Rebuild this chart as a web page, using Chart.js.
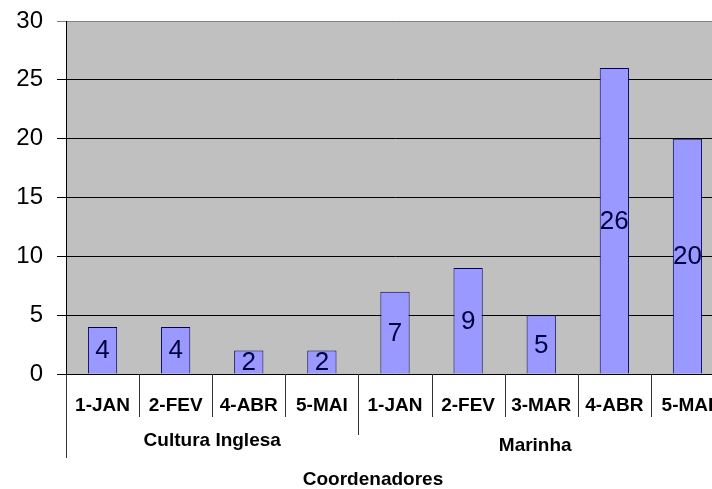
<!DOCTYPE html>
<html>
<head>
<meta charset="utf-8">
<script src="https://cdn.jsdelivr.net/npm/chart.js@4"></script>
<style>
  html, body { margin: 0; padding: 0; background: #fff; overflow: hidden; }
  #wrap { width: 712px; height: 489px; overflow: hidden; position: relative; }
  #wrap canvas { display: block; }
</style>
</head>
<body>
<div id="wrap"><canvas id="c" width="730" height="489" style="width:730px;height:489px"></canvas></div>
<script>
// Monthly counts per coordinator
const months = ['1-JAN', '2-FEV', '4-ABR', '5-MAI', '1-JAN', '2-FEV', '3-MAR', '4-ABR', '5-MAI'];
const groups = ['Cultura Inglesa', 'Marinha'];
const groupSizes = [4, 5];
const counts = [4, 4, 2, 2, 7, 9, 5, 26, 20];
const yTicks = [0, 5, 10, 15, 20, 25, 30];
const axisTitle = 'Coordenadores';

const FONT = 'Arial, "Liberation Sans", sans-serif';

const decor = {
  id: 'decor',
  beforeDraw(chart) {
    const { ctx, chartArea: a } = chart;
    ctx.save();
    ctx.fillStyle = '#c0c0c0';
    ctx.fillRect(a.left, a.top, a.right - a.left, a.bottom - a.top);
    ctx.restore();
  },
  afterDatasetsDraw(chart) {
    const { ctx } = chart;
    const meta = chart.getDatasetMeta(0);
    ctx.save();
    ctx.font = '26px ' + FONT;
    ctx.fillStyle = '#000040';
    ctx.textAlign = 'center';
    ctx.textBaseline = 'middle';
    meta.data.forEach((bar, i) => {
      ctx.fillText(String(counts[i]), bar.x, (bar.y + bar.base) / 2 + 1);
    });
    ctx.restore();
  },
  afterDraw(chart) {
    const { ctx, chartArea: a } = chart;
    const cw = (a.right - a.left) / months.length;
    const edge = i => a.left + i * cw;
    const visibleRight = 712;

    ctx.save();
    ctx.strokeStyle = '#333';
    ctx.lineWidth = 1;
    // category dividers
    const groupStarts = [0];
    groupSizes.reduce((s, n) => { groupStarts.push(s + n); return s + n; }, 0);
    for (let i = 0; i <= months.length; i++) {
      let end = a.bottom + 43;
      if (i === 0) end = a.bottom + 84;
      else if (groupStarts.includes(i) && i < months.length) end = a.bottom + 61;
      const px = Math.round(edge(i)) + 0.5;
      ctx.beginPath();
      ctx.moveTo(px, a.bottom);
      ctx.lineTo(px, end);
      ctx.stroke();
    }

    // group labels
    ctx.fillStyle = '#000';
    ctx.font = 'bold 19px ' + FONT;
    ctx.textAlign = 'center';
    ctx.textBaseline = 'middle';
    const groupY = [a.bottom + 67, a.bottom + 72];
    groups.forEach((g, gi) => {
      const s = edge(groupStarts[gi]);
      const e = Math.min(edge(groupStarts[gi + 1]), visibleRight);
      ctx.fillText(g, (s + e) / 2, groupY[gi]);
    });

    // axis title
    ctx.fillText(axisTitle, 373, a.bottom + 106);
    ctx.restore();
  }
};

new Chart(document.getElementById('c'), {
  type: 'bar',
  data: {
    labels: months,
    datasets: [{
      data: counts,
      backgroundColor: '#9999ff',
      borderColor: '#000060',
      borderWidth: 1,
      barPercentage: 0.4,
      categoryPercentage: 1
    }]
  },
  options: {
    responsive: false,
    animation: false,
    events: [],
    layout: { padding: { top: 21, right: 6, bottom: 0, left: 0 } },
    plugins: { legend: { display: false }, tooltip: { enabled: false } },
    scales: {
      x: {
        grid: { display: false },
        border: { display: true, color: '#000', width: 1 },
        ticks: {
          autoSkip: false,
          maxRotation: 0,
          padding: 12,
          color: '#000',
          font: { family: FONT, size: 19, weight: 'bold' }
        },
        afterFit(scale) {
          scale.height = 115;
          scale.paddingLeft = 0;
          scale.paddingRight = 0;
        }
      },
      y: {
        min: 0,
        max: 30,
        afterBuildTicks(scale) { scale.ticks = yTicks.map(v => ({ value: v })); },
        grid: {
          color: ctx => (ctx.tick && ctx.tick.value === 30 ? '#808080' : '#000'),
          lineWidth: 1,
          tickLength: 9
        },
        border: { display: true, color: '#000', width: 1 },
        ticks: {
          padding: 14,
          color: '#000',
          font: { family: FONT, size: 24 }
        },
        afterFit(scale) {
          scale.width = 66;
          scale.paddingTop = 0;
          scale.paddingBottom = 0;
        }
      }
    }
  },
  plugins: [decor]
});
</script>
</body>
</html>
